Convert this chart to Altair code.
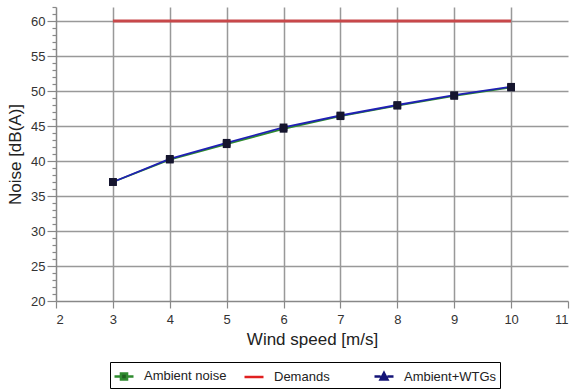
import altair as alt
import pandas as pd

wind = [3, 4, 5, 6, 7, 8, 9, 10]
ambient = [37.0, 40.2, 42.4, 44.6, 46.4, 47.9, 49.3, 50.5]
ambient_wtgs = [37.0, 40.3, 42.6, 44.8, 46.5, 48.0, 49.4, 50.6]
demands = [60, 60, 60, 60, 60, 60, 60, 60]

series_names = ["Ambient noise", "Demands", "Ambient+WTGs"]
line_colors = ["#2e8b2e", "#c8484a", "#2020b4"]
legend_fill = ["#1f5f1f", "#e02020", "#141478"]
legend_stroke = ["#2e8b2e", "#e02020", "#141478"]
legend_shapes = [
    "M-1,0H-0.32M0.32,0H1M-0.32,-0.32H0.32V0.32H-0.32Z",
    "M-1,0H1",
    "M-1,0H-0.35M0.35,0H1M0,-0.38L0.36,0.3H-0.36Z",
]

rows = []
for name, vals in zip(series_names, [ambient, demands, ambient_wtgs]):
    for i, (w, v) in enumerate(zip(wind, vals)):
        rows.append({"series": name, "x": w, "y": v, "order": i})
df = pd.DataFrame(rows)

font = "Liberation Sans"
x_vals = [2 + 0.25 * i for i in range(37)]
y_vals = list(range(20, 63))

x_enc = alt.X(
    "x:Q",
    scale=alt.Scale(domain=[2, 11], nice=False, zero=False),
    axis=alt.Axis(
        title="Wind speed [m/s]",
        values=x_vals,
        format="d",
        labelExpr="datum.value % 1 === 0 ? datum.label : ''",
        tickSize={"condition": {"test": "datum.value % 1 === 0", "value": 7}, "value": 4},
        gridOpacity={"condition": {"test": "datum.value % 1 === 0 && datum.value > 2 && datum.value < 11", "value": 1}, "value": 0},
        grid=True,
        labelPadding=5,
        titlePadding=5,
        titleFontSize=17,
        titleFontWeight="normal",
    ),
)
y_enc = alt.Y(
    "y:Q",
    scale=alt.Scale(domain=[20, 62], nice=False, zero=False),
    axis=alt.Axis(
        title="Noise [dB(A)]",
        values=y_vals,
        format="d",
        labelExpr="datum.value % 5 === 0 ? datum.label : ''",
        tickSize={"condition": {"test": "datum.value % 5 === 0", "value": 9}, "value": 4},
        gridOpacity={"condition": {"test": "datum.value % 5 === 0 && datum.value > 20", "value": 1}, "value": 0},
        grid=True,
        labelPadding=2,
        titlePadding=6,
        titleFontSize=17,
        titleFontWeight="normal",
    ),
)


def series_line(name, color, width):
    return alt.Chart(df).transform_filter(alt.datum.series == name).mark_line(
        strokeWidth=width, color=color
    ).encode(x=x_enc, y=y_enc, order="order:Q")


dem_line = series_line("Demands", line_colors[1], 3)
amb_line = series_line("Ambient noise", line_colors[0], 1.8)
wtg_line = series_line("Ambient+WTGs", line_colors[2], 1.8)

points = alt.Chart(df).transform_filter(alt.datum.series != "Demands").mark_point(
    shape="square", filled=True, size=60, color="#15152e", opacity=1
).encode(x=x_enc, y=y_enc)


def make_legend():
    return alt.Legend(
        orient="none", legendX=54, legendY=355, direction="horizontal",
        columns=3, gridAlign="all", columnPadding=2, padding=3,
        strokeColor="black", fillColor="white", labelOffset=9,
        labelFont=font, labelFontSize=13, labelColor="#222", title=None,
        symbolStrokeWidth=2.5, symbolOpacity=1, symbolSize=361,
    )


legend_layer = alt.Chart(df).mark_point(
    size=361, strokeWidth=2.5, opacity=0, filled=True
).encode(
    x=x_enc,
    y=y_enc,
    shape=alt.Shape("series:N", scale=alt.Scale(domain=series_names, range=legend_shapes), title=None,
                    legend=make_legend()),
    fill=alt.Fill("series:N", scale=alt.Scale(domain=series_names, range=legend_fill), title=None,
                  legend=make_legend()),
    stroke=alt.Stroke("series:N", scale=alt.Scale(domain=series_names, range=legend_stroke), title=None,
                      legend=make_legend()),
)

chart = alt.layer(dem_line, amb_line, wtg_line, points, legend_layer).properties(
    width=512,
    height=294,
    autosize=alt.AutoSizeParams(type="none"),
    padding={"left": 56, "top": 7, "right": 5, "bottom": 89},
    background="white",
).configure_view(stroke=None).configure_axis(
    labelFont=font,
    titleFont=font,
    labelFontSize=13,
    labelColor="#333",
    titleColor="#222",
    gridColor="#999",
    gridWidth=1.5,
    domainColor="#888",
    domainWidth=1.5,
    tickColor="#888",
    tickWidth=1.2,
)

chart.save("out.html", embed_options={"renderer": "svg", "actions": False})
